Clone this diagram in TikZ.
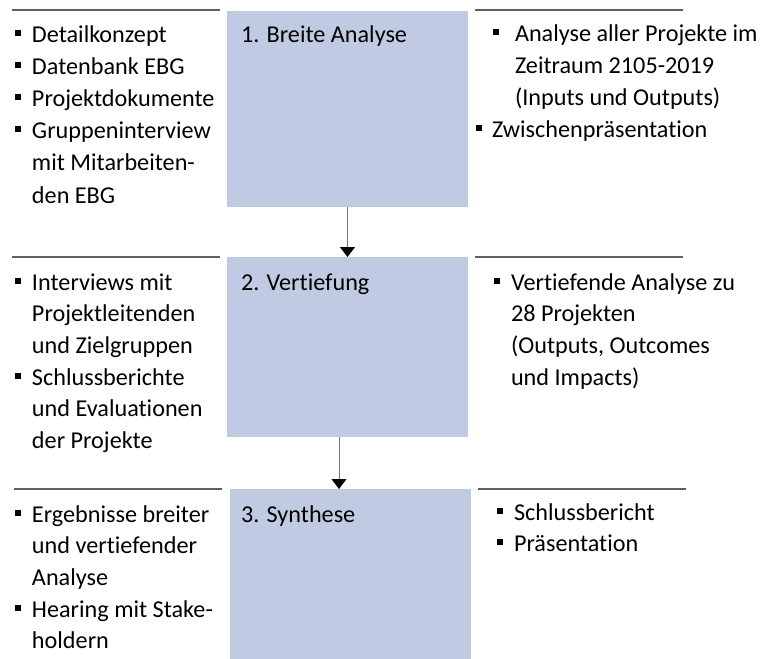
\documentclass[tikz,border=0pt]{standalone}
\usepackage{fontspec}
\setmainfont{Carlito}[Ligatures=NoCommon]
\usetikzlibrary{arrows.meta}
\definecolor{boxfill}{RGB}{192,202,227}
\definecolor{rulegray}{RGB}{95,95,95}
\definecolor{arrowgray}{RGB}{120,120,120}
\newcommand{\sqb}{\rule[6.5pt]{6pt}{6pt}}
\newcommand{\bulA}{\makebox[17pt][l]{\sqb}}
\newcommand{\indA}{\hspace*{17pt}}
\newcommand{\firstln}{\rule{0pt}{20pt}}
\begin{document}
\begin{tikzpicture}[x=1pt,y=-1pt,
  stage/.style={fill=boxfill, draw=none, anchor=north west, inner sep=0pt, outer sep=0pt},
  sep/.style={draw=rulegray, line width=1.3pt},
  txtA/.style={anchor=north west, inner sep=0pt, outer sep=0pt, align=left, font=\fontsize{24.2}{32.2}\selectfont},
  txtB/.style={anchor=north west, inner sep=0pt, outer sep=0pt, align=left, font=\fontsize{24.2}{31.7}\selectfont},
  ttl/.style={anchor=base west, inner sep=0pt, outer sep=0pt, font=\fontsize{24.2}{32}\selectfont},
  flow/.style={draw=arrowgray, line width=1pt, -{Triangle[width=15pt,length=10pt,fill=black,color=black]}}
]
\useasboundingbox (0,0) rectangle (764,659);

% separator lines
\coordinate (l1a) at (12,10);  \coordinate (l1b) at (220,10);
\coordinate (r1a) at (475,10); \coordinate (r1b) at (683,10);
\coordinate (l2a) at (12,257); \coordinate (l2b) at (220,257);
\coordinate (r2a) at (475,257);\coordinate (r2b) at (683,257);
\coordinate (l3a) at (14,489); \coordinate (l3b) at (222,489);
\coordinate (r3a) at (478,489);\coordinate (r3b) at (686,489);
\draw[sep] (l1a) -- (l1b);
\draw[sep] (r1a) -- (r1b);
\draw[sep] (l2a) -- (l2b);
\draw[sep] (r2a) -- (r2b);
\draw[sep] (l3a) -- (l3b);
\draw[sep] (r3a) -- (r3b);

% stage boxes
\node[stage, minimum width=241pt, minimum height=196pt] (b1) at (227,11) {};
\node[stage, minimum width=241pt, minimum height=180pt] (b2) at (227,257) {};
\node[stage, minimum width=241pt, minimum height=170pt] (b3) at (230,489) {};

\node[ttl] (t1) at (241,42) {1. Breite Analyse};
\node[ttl] (t2) at (241,290) {2. Vertiefung};
\node[ttl] (t3) at (241,522) {3. Synthese};

% arrows
\draw[flow] (b1.south) -- (b2.north);
\draw[flow] ([xshift=-8.5pt]b2.south) -- ([xshift=-8.5pt]b2.south |- b3.north);

% row 1
\node[txtA] (in1) at (15,22) {\firstln\bulA Detailkonzept\\
\bulA Datenbank EBG\\
\bulA Projektdokumente\\
\bulA Gruppeninterview\\
\indA mit Mitarbeiten-\\
\indA den EBG};
\node[txtA] (out1) at (476,21) {\firstln\hspace*{17pt}\makebox[22pt][l]{\sqb}Analyse aller Projekte im\\
\hspace*{39pt}Zeitraum 2105-2019\\
\hspace*{39pt}(Inputs und Outputs)\\
\makebox[16pt][l]{\sqb}Zwischenpräsentation};

% row 2
\node[txtB] (in2) at (15,270) {\firstln\bulA Interviews mit\\
\indA Projektleitenden\\
\indA und Zielgruppen\\
\bulA Schlussberichte\\
\indA und Evaluationen\\
\indA der Projekte};
\node[txtB] (out2) at (494,270) {\firstln\bulA Vertiefende Analyse zu\\
\indA 28 Projekten\\
\indA (Outputs, Outcomes\\
\indA und Impacts)};

% row 3
\node[txtB] (in3) at (15,502) {\firstln\bulA Ergebnisse breiter\\
\indA und vertiefender\\
\indA Analyse\\
\bulA Hearing mit Stake-\\
\indA holdern};
\node[txtB] (out3) at (497,500) {\firstln\bulA Schlussbericht\\
\bulA Präsentation};
\end{tikzpicture}
\end{document}
